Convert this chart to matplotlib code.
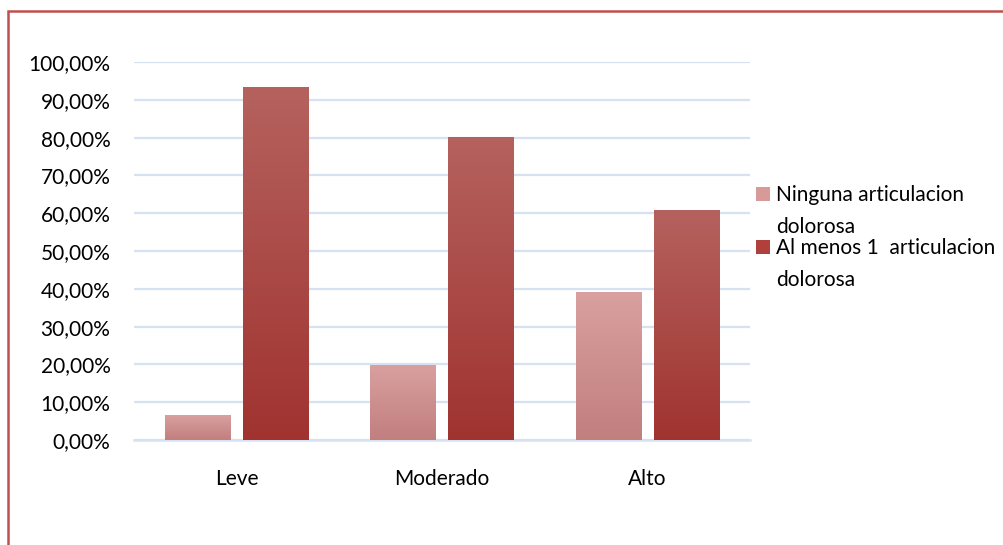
import matplotlib.pyplot as plt
import numpy as np
from matplotlib.colors import LinearSegmentedColormap
from matplotlib.legend_handler import HandlerPatch
from matplotlib.patches import Rectangle

plt.rcParams["font.family"] = ["Lato", "DejaVu Sans"]

# datos
categorias = ["Leve", "Moderado", "Alto"]
ninguna = [6.6, 19.8, 39.1]
al_menos_1 = [93.4, 80.2, 60.9]
etiquetas = ["Ninguna articulacion\ndolorosa", "Al menos 1  articulacion\ndolorosa"]
yticks = np.arange(0, 101, 10)

FS = 15
GRID = "#d6e1f1"
BORDE = "#c0504d"
grad_claro = LinearSegmentedColormap.from_list("claro", ["#c17f7e", "#d9a09f"])
grad_oscuro = LinearSegmentedColormap.from_list("oscuro", ["#a03330", "#b5625e"])

fig = plt.figure(figsize=(10.04, 5.45), dpi=100)
ax = fig.add_axes([134 / 1004, 105 / 545, 616 / 1004, 378 / 545])

x = np.arange(len(categorias))
w = 0.317
off = 0.19
b1 = ax.bar(x - off, ninguna, w, color="#d79a98", label=etiquetas[0], zorder=3)
b2 = ax.bar(x + off, al_menos_1, w, color="#b0403c", label=etiquetas[1], zorder=3)

# degradado vertical dentro de cada barra, como en Excel
grad = np.linspace(0, 1, 256).reshape(-1, 1)
for barras, cmap in ((b1, grad_claro), (b2, grad_oscuro)):
    for b in barras:
        x0, y0 = b.get_x(), b.get_y()
        im = ax.imshow(grad, cmap=cmap, origin="lower", aspect="auto",
                       extent=[x0, x0 + b.get_width(), y0, y0 + b.get_height()], zorder=3)
        im.set_clip_path(b)
        b.set_alpha(0)

ax.set_aspect("auto")
ax.set_xlim(-0.5, len(categorias) - 0.5)
ax.set_ylim(0, 100)
ax.set_yticks(yticks)
ax.set_yticklabels([f"{v:.2f}%".replace(".", ",") for v in yticks], fontsize=FS)
ax.set_xticks(x)
ax.set_xticklabels(categorias, fontsize=FS)
ax.tick_params(axis="y", length=0, pad=17)
ax.tick_params(axis="x", length=0, pad=21)
ax.grid(axis="y", color=GRID, lw=1.6, zorder=0)
for s in ["top", "right", "left"]:
    ax.spines[s].set_visible(False)
ax.spines["bottom"].set_color(GRID)
ax.spines["bottom"].set_linewidth(1.8)


def cuadro_arriba(legend, orig_handle, xdescent, ydescent, width, height, fontsize):
    # el cuadro del legend va a la altura de la primera linea del texto
    return Rectangle((-xdescent, -ydescent + 0.86 * fontsize), width, height)


leg_handles = [Rectangle((0, 0), 1, 1, fc="#d79a98"), Rectangle((0, 0), 1, 1, fc="#b0403c")]
leg = fig.legend(leg_handles, etiquetas, loc="upper left", bbox_to_anchor=(756 / 1004, 1 - 185 / 545),
                 frameon=False, fontsize=FS, handlelength=0.68, handleheight=0.64,
                 handletextpad=0.3, labelspacing=0.05, borderpad=0, borderaxespad=0,
                 handler_map={Rectangle: HandlerPatch(patch_func=cuadro_arriba)})
for t in leg.get_texts():
    t.set_linespacing(1.76)

fig.patches.append(Rectangle((8 / 1004, -0.1), 1.2, 1.1 - 11 / 545, transform=fig.transFigure,
                             fill=False, ec=BORDE, lw=1.8))

fig.savefig("out.png", dpi=100)
